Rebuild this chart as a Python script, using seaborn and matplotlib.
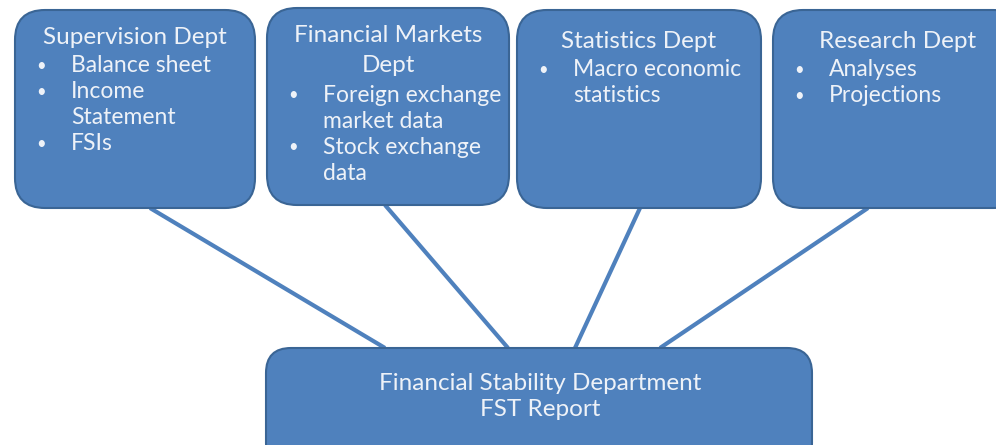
import matplotlib
matplotlib.use("Agg")
import matplotlib.pyplot as plt
from matplotlib.patches import FancyBboxPatch
import seaborn as sns

# departments feeding the report
dept_titles = [["Supervision Dept"], ["Financial Markets", "Dept"], ["Statistics Dept"], ["Research Dept"]]
dept_items = [
    ["Balance sheet", "Income", "Statement", "FSIs"],
    ["Foreign exchange", "market data", "Stock exchange", "data"],
    ["Macro economic", "statistics"],
    ["Analyses", "Projections"],
]
# which item lines get a bullet (continuation lines don't)
dept_bullets = [
    [True, True, False, True],
    [True, False, True, False],
    [True, False],
    [True, True],
]
target_title = ["Financial Stability Department", "FST Report"]

# layout (pixels, y down)
box_x = [15, 267, 517, 773]
box_y = [10, 8, 10, 10]
box_w = [240, 242, 244, 250]
box_h = [198, 197, 198, 198]
title_y = [38, 36, 42, 42]
item_y0 = [66, 95, 70, 70]
line_from_x = [150, 385, 640, 868]
line_to_x = [385, 508, 575, 660]

fill = "#4F81BD"
edge = "#3A6595"
txt = "#EEF2F8"

sns.set_theme(style="white")
plt.rcParams["font.family"] = ["Lato", "DejaVu Sans"]

fig = plt.figure(figsize=(9.96, 4.45), dpi=100)
ax = fig.add_axes([0, 0, 1, 1])
ax.set_xlim(0, 996)
ax.set_ylim(445, 0)
ax.axis("off")

# connectors
for i in range(4):
    ax.plot([line_from_x[i], line_to_x[i]], [box_y[i] + box_h[i], 348],
            color=fill, lw=3, zorder=1, solid_capstyle="butt")

r = 30
for i in range(4):
    p = FancyBboxPatch((box_x[i] + r, box_y[i] + r), box_w[i] - 2 * r, box_h[i] - 2 * r,
                       boxstyle=f"round,pad={r},rounding_size={r}",
                       fc=fill, ec=edge, lw=1.5, zorder=2)
    ax.add_patch(p)
    cx = box_x[i] + box_w[i] / 2
    for k, line in enumerate(dept_titles[i]):
        ax.text(cx, title_y[i] + k * 30, line, ha="center", va="center",
                fontsize=17.5, color=txt, zorder=3)
    bx = box_x[i] + 26
    tx = box_x[i] + 56
    for j, item in enumerate(dept_items[i]):
        yy = item_y0[i] + j * 26
        if dept_bullets[i][j]:
            ax.text(bx, yy, "\u2022", ha="center", va="center", fontsize=12, color=txt, zorder=3)
        ax.text(tx, yy, item, ha="left", va="center", fontsize=16.5, color=txt, zorder=3)

# bottom box
p = FancyBboxPatch((266 + 25, 348 + 25), 546 - 50, 120 - 50,
                   boxstyle="round,pad=25,rounding_size=25",
                   fc=fill, ec=edge, lw=1.5, zorder=2)
ax.add_patch(p)
for k, line in enumerate(target_title):
    ax.text(540, 383 + k * 27, line, ha="center", va="center", fontsize=17.5,
            color=txt, zorder=3)

fig.savefig("out.png", dpi=100, facecolor="white")
